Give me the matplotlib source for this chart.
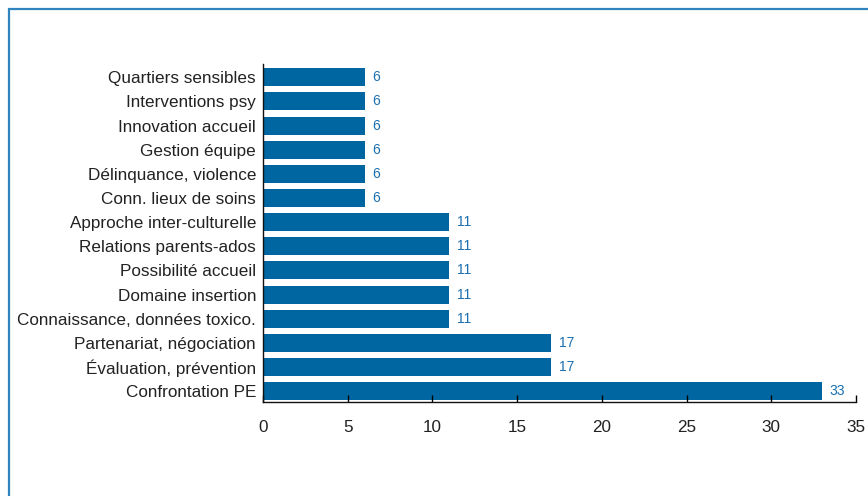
import matplotlib
matplotlib.use("Agg")
import matplotlib.pyplot as plt
from matplotlib.patches import Rectangle

categories = ["Confrontation PE", "Évaluation, prévention", "Partenariat, négociation",
              "Connaissance, données toxico.", "Domaine insertion", "Possibilité accueil",
              "Relations parents-ados", "Approche inter-culturelle", "Conn. lieux de soins",
              "Délinquance, violence", "Gestion équipe", "Innovation accueil",
              "Interventions psy", "Quartiers sensibles"]
values = [33, 17, 17, 11, 11, 11, 11, 11, 6, 6, 6, 6, 6, 6]
xticks = [0, 5, 10, 15, 20, 25, 30, 35]

plt.rcParams['font.family'] = ['Liberation Sans', 'DejaVu Sans']
W, H = 868, 496
fig = plt.figure(figsize=(W/100, H/100), dpi=100)
ax = fig.add_axes([263/W, 1-402/H, (856-263)/W, (402-64)/H])

bar_color = "#0066a1"
ypos = list(range(len(categories)))
ax.barh(ypos, values, height=0.75, color=bar_color)
for y, v in zip(ypos, values):
    ax.text(v + 0.45, y, str(v), va="center", ha="left", fontsize=10, color="#1a6fb0")

ax.set_xlim(0, 35)
ax.set_ylim(-0.45, 13.55)
ax.set_yticks(ypos)
ax.set_yticklabels(categories, fontsize=12.3, color="#222222")
ax.set_xticks(xticks)
ax.set_xticklabels([str(t) for t in xticks], fontsize=12.3, color="#222222")
ax.tick_params(axis="y", length=0, pad=5)
ax.tick_params(axis="x", direction="in", length=5, pad=13, width=1)
for s in ["top", "right"]:
    ax.spines[s].set_visible(False)
for s in ["left", "bottom"]:
    ax.spines[s].set_linewidth(1)
    ax.spines[s].set_color("#111111")

fig.patches.append(Rectangle((8.5/W, -0.1), 1.2, 1 - 8.5/H + 0.1, transform=fig.transFigure,
                             fill=False, edgecolor="#2f84bd", linewidth=1.6, figure=fig))
fig.savefig("out.png", dpi=100)
